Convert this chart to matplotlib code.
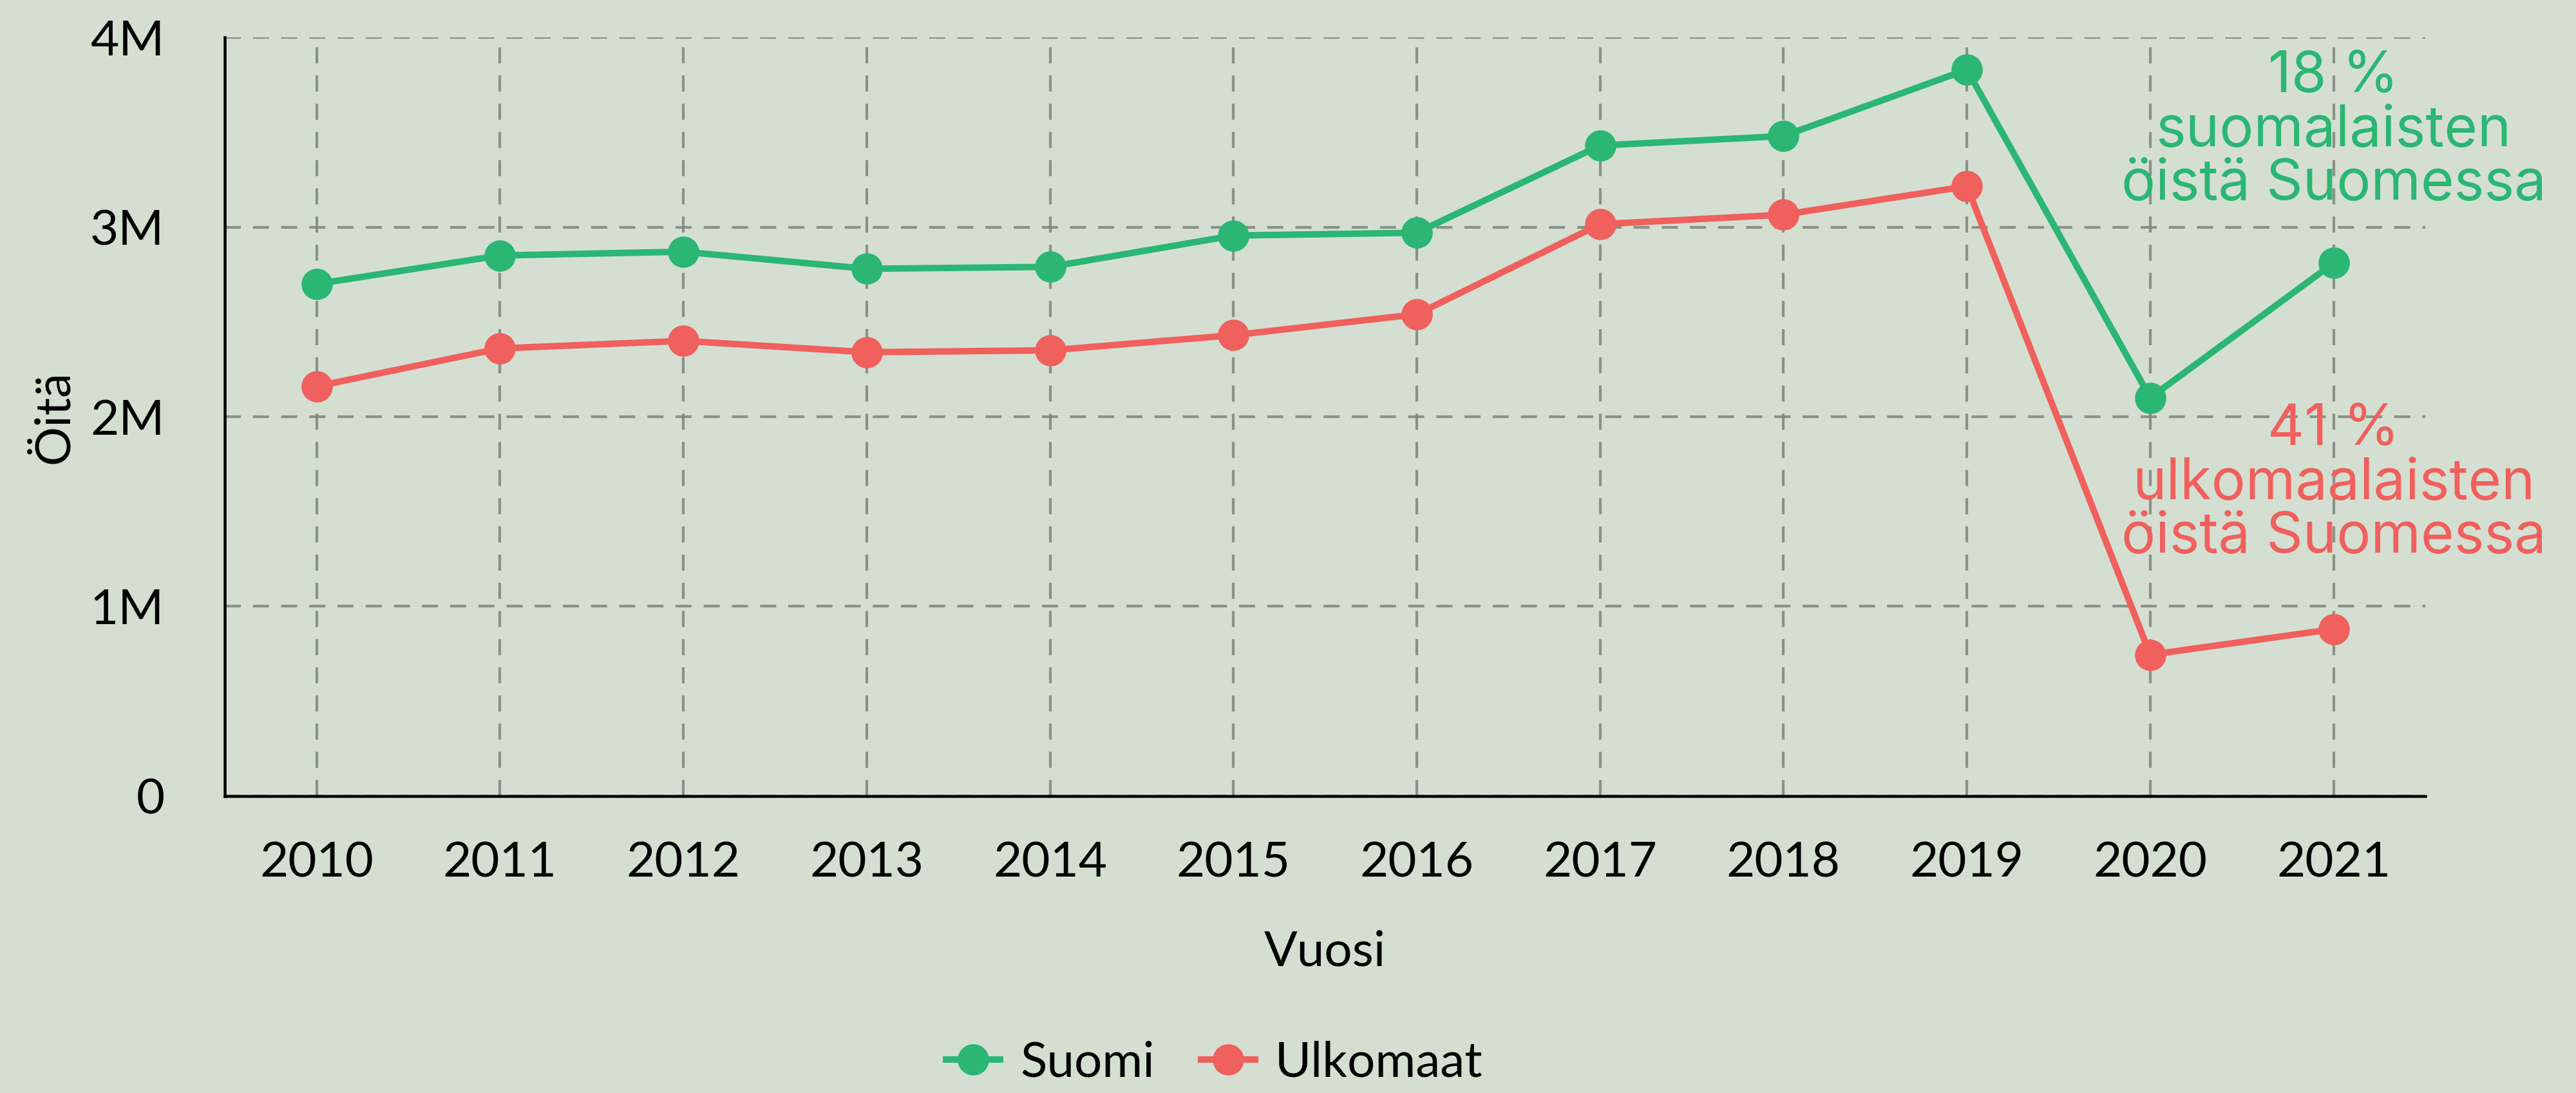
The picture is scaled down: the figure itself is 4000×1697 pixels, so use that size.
import numpy as np
import matplotlib
matplotlib.use("Agg")
import matplotlib.pyplot as plt
from matplotlib.ticker import FuncFormatter

# data (overnight stays)
years = list(range(2010, 2022))
suomi = [2.70e6, 2.85e6, 2.87e6, 2.78e6, 2.79e6, 2.955e6, 2.97e6, 3.43e6, 3.48e6, 3.83e6, 2.10e6, 2.81e6]
ulkomaat = [2.16e6, 2.36e6, 2.40e6, 2.34e6, 2.35e6, 2.43e6, 2.54e6, 3.015e6, 3.065e6, 3.215e6, 0.745e6, 0.88e6]
y_ticks = [0, 1e6, 2e6, 3e6, 4e6]

note_suomi = "18 %\nsuomalaisten\nöistä Suomessa"
note_ulko = "41 %\nulkomaalaisten\nöistä Suomessa"

green = "#2bb673"
red = "#f0605d"
bg = "#d4dfd2"

plt.rcParams["font.family"] = ["Lato", "DejaVu Sans"]

fig = plt.figure(figsize=(16, 6.788), dpi=250, facecolor=bg)
ax = fig.add_axes([0.0873, 0.2717, 0.9415 - 0.0873, 0.9658 - 0.2717])
ax.set_facecolor(bg)

ax.plot(years, suomi, color=green, lw=2.9, marker="o", ms=13, label="Suomi", zorder=3)
ax.plot(years, ulkomaat, color=red, lw=2.9, marker="o", ms=13, label="Ulkomaat", zorder=3)

ax.set_xlim(2009.5, 2021.5)
ax.set_ylim(0, 4e6)
ax.set_xticks(years)
ax.set_yticks(y_ticks)
ax.yaxis.set_major_formatter(FuncFormatter(lambda v, p: "0" if v == 0 else f"{v/1e6:.0f}M"))
ax.tick_params(axis="both", length=0, labelsize=22)
ax.tick_params(axis="x", pad=20)
ax.tick_params(axis="y", pad=27)

ax.grid(True, color="#7c847c", alpha=0.85, lw=1.2, linestyle=(0, (6, 4.5)))
ax.set_axisbelow(True)
for s in ["top", "right"]:
    ax.spines[s].set_visible(False)
for s in ["left", "bottom"]:
    ax.spines[s].set_linewidth(1.3)
    ax.spines[s].set_color("black")

ax.set_xlabel("Vuosi", fontsize=22, labelpad=20)
ax.set_ylabel("Öitä", fontsize=22, labelpad=6)

# annotations on the right
ax.text(2021, 3.51e6, note_suomi, color=green, fontsize=25.5, ha="center", va="center",
        linespacing=1.0, family=["Inter", "DejaVu Sans"], zorder=4)
ax.text(2021, 1.65e6, note_ulko, color=red, fontsize=25.5, ha="center", va="center",
        linespacing=1.0, family=["Inter", "DejaVu Sans"], zorder=4)

fig.legend(loc="center", bbox_to_anchor=(1886 / 4000, 1 - 1650 / 1697), ncol=2,
           frameon=False, fontsize=22, handlelength=1.1, handletextpad=0.4,
           columnspacing=0.95, markerscale=1.0, borderaxespad=0, borderpad=0)

fig.savefig("out.png", dpi=250, facecolor=bg)
